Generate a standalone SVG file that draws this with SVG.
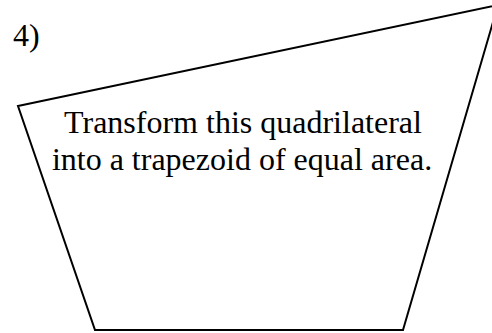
<svg xmlns="http://www.w3.org/2000/svg" width="492" height="333" viewBox="0 0 492 333">
<style>
text{font-family:"Liberation Serif","Times New Roman",serif;font-size:32px;fill:#000}
.shape{fill:none;stroke:#000;stroke-width:2}
</style>
<rect width="492" height="333" fill="#fff"/>
<g id="label"><text x="13" y="46">4)</text></g>
<g id="quad">
<polygon class="shape" points="18,106 498,5 403,330 95,330"/>
<text x="243" y="133" text-anchor="middle">Transform this quadrilateral</text>
<text x="242" y="170" text-anchor="middle">into a trapezoid of equal area.</text>
</g>
</svg>
